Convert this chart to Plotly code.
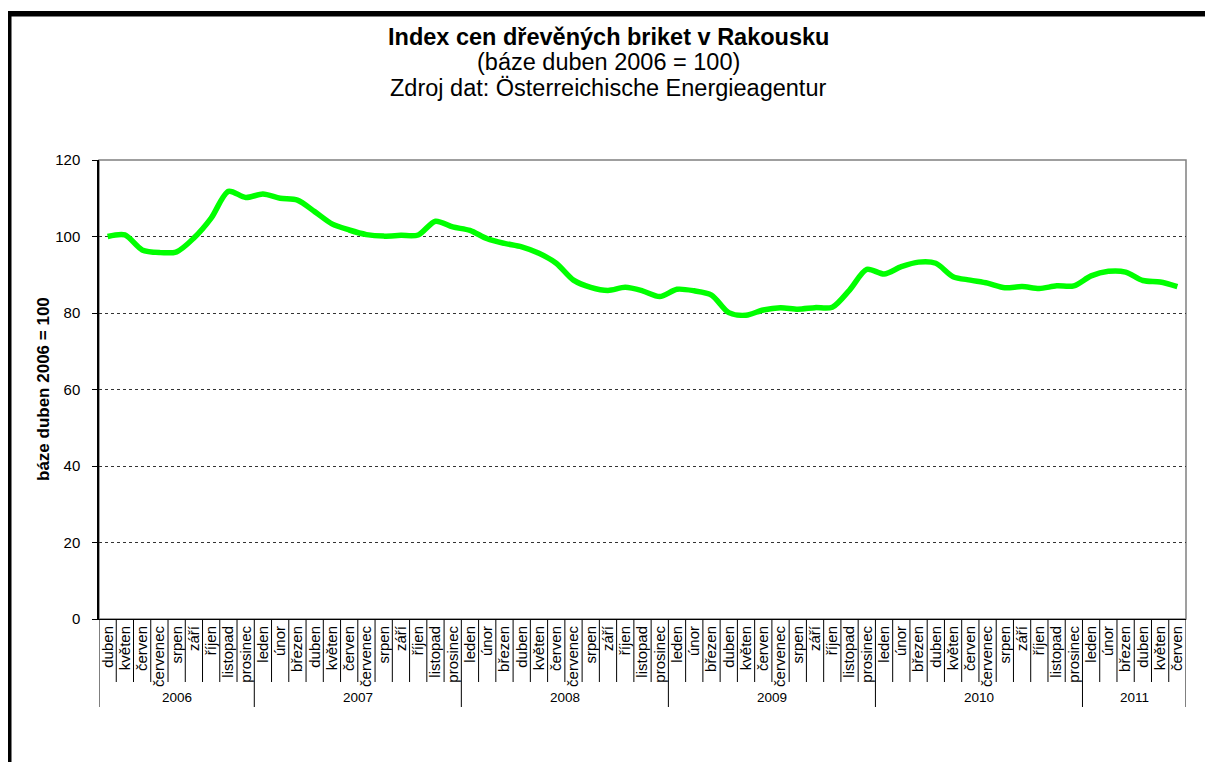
import plotly.graph_objects as go

# ---- data ----
years = ["2006", "2007", "2008", "2009", "2010", "2011"]
months_per_year = [9, 12, 12, 12, 12, 6]

month_labels = [
    "duben", "květen", "červen", "červenec", "srpen", "září", "říjen", "listopad", "prosinec",
    "leden", "únor", "březen", "duben", "květen", "červen", "červenec", "srpen", "září", "říjen", "listopad", "prosinec",
    "leden", "únor", "březen", "duben", "květen", "červen", "červenec", "srpen", "září", "říjen", "listopad", "prosinec",
    "leden", "únor", "březen", "duben", "květen", "červen", "červenec", "srpen", "září", "říjen", "listopad", "prosinec",
    "leden", "únor", "březen", "duben", "květen", "červen", "červenec", "srpen", "září", "říjen", "listopad", "prosinec",
    "leden", "únor", "březen", "duben", "květen", "červen",
]

index_values = [
    100.0, 100.4, 96.5, 95.8, 96.0, 99.6, 104.8, 111.8, 110.2,
    111.1, 110.0, 109.5, 106.5, 103.3, 101.7, 100.5, 100.1, 100.3, 100.4, 104.0, 102.5,
    101.6, 99.4, 98.2, 97.3, 95.6, 93.0, 88.6, 86.7, 85.9, 86.7, 85.8, 84.3,
    86.2, 85.8, 84.7, 80.1, 79.4, 80.8, 81.4, 81.0, 81.4, 81.5, 86.0, 91.4,
    90.2, 92.1, 93.3, 93.0, 89.5, 88.6, 87.8, 86.6, 86.9, 86.4, 87.1, 87.1,
    89.7, 90.9, 90.7, 88.5, 88.1, 86.9,
]

y_ticks = [0, 20, 40, 60, 80, 100, 120]

FONT = "Liberation Sans, Arial, sans-serif"
OFF = 8  # page body margin
W, H = 1213 - OFF, 762 - OFF
# plot area in screen pixels: x 99..1186, y 160..619
SX0, SX1, SY0, SY1 = 99, 1186, 160, 619
ML, MT = SX0 - OFF, SY0 - OFF
MR, MB = W - (SX1 - OFF), H - (SY1 - OFF)
PW, PH = SX1 - SX0, SY1 - SY0

def px_y(py):
    return (SY1 - py) / PH

def px_x(px):
    return (px - SX0) / PW

x_idx = list(range(len(index_values)))

fig = go.Figure()
fig.add_trace(go.Scatter(
    x=x_idx, y=index_values, mode="lines",
    line=dict(color="#00FF00", width=5.5, shape="spline", smoothing=0.8),
    hoverinfo="skip", showlegend=False,
))

shapes = []
shapes.append(dict(type="rect", xref="paper", yref="paper", x0=0, x1=1, y0=0, y1=1,
                   line=dict(color="#808080", width=1.5), layer="below"))
n = len(index_values)
year_bounds = [0]
for m in months_per_year:
    year_bounds.append(year_bounds[-1] + m)
for i in range(n + 1):
    is_year = i in year_bounds
    shapes.append(dict(type="line", xref="x", yref="paper",
                       x0=i - 0.5, x1=i - 0.5, y0=0,
                       y1=px_y(707) if is_year else px_y(682),
                       line=dict(color="#000000", width=1)))
# black frame (left and top)
shapes.append(dict(type="rect", xref="paper", yref="paper",
                   x0=px_x(5), x1=px_x(11.5), y0=px_y(780), y1=px_y(11),
                   fillcolor="#000000", line=dict(width=0)))
shapes.append(dict(type="rect", xref="paper", yref="paper",
                   x0=px_x(5), x1=px_x(1230), y0=px_y(16.5), y1=px_y(11),
                   fillcolor="#000000", line=dict(width=0)))

annotations = []
for k, yr in enumerate(years):
    cx = (year_bounds[k] + year_bounds[k + 1] - 1) / 2
    annotations.append(dict(x=cx, y=px_y(697), xref="x", yref="paper", text=yr,
                            showarrow=False, yanchor="middle", xanchor="center",
                            font=dict(family=FONT, size=13.5, color="#000000")))
title_x = px_x(608)
annotations.append(dict(x=title_x, y=px_y(37), xref="paper", yref="paper",
                        text="<b>Index cen dřevěných briket v Rakousku</b>", showarrow=False,
                        yanchor="middle", xanchor="center",
                        font=dict(family=FONT, size=23.5, color="#000000")))
annotations.append(dict(x=title_x, y=px_y(62), xref="paper", yref="paper",
                        text="(báze duben 2006 = 100)", showarrow=False,
                        yanchor="middle", xanchor="center",
                        font=dict(family=FONT, size=23.5, color="#000000")))
annotations.append(dict(x=title_x, y=px_y(88), xref="paper", yref="paper",
                        text="Zdroj dat: Österreichische Energieagentur", showarrow=False,
                        yanchor="middle", xanchor="center",
                        font=dict(family=FONT, size=23.5, color="#000000")))
annotations.append(dict(x=px_x(43), y=px_y(389), xref="paper", yref="paper",
                        text="<b>báze duben 2006 = 100</b>", showarrow=False, textangle=-90,
                        xanchor="center", yanchor="middle",
                        font=dict(family=FONT, size=17, color="#000000")))

fig.update_layout(
    width=W, height=H,
    margin=dict(l=ML, r=MR, t=MT, b=MB, autoexpand=False),
    paper_bgcolor="#FFFFFF", plot_bgcolor="#FFFFFF",
    shapes=shapes, annotations=annotations,
    xaxis=dict(range=[-0.5, n - 0.5], tickmode="array", tickvals=x_idx, ticktext=month_labels,
               tickangle=-90, ticks="", showgrid=False, zeroline=False,
               showline=True, linecolor="#000000", linewidth=1,
               tickfont=dict(family=FONT, size=15, color="#000000")),
    yaxis=dict(range=[0, 120], tickmode="array", tickvals=y_ticks, ticks="outside",
               ticklen=5, tickcolor="#000000", showline=True, linecolor="#000000", linewidth=1.5,
               showgrid=True, gridcolor="#333333", gridwidth=1, griddash="dot", zeroline=False,
               ticklabelstandoff=9,
               tickfont=dict(family=FONT, size=15, color="#000000")),
    font=dict(family=FONT),
)

fig.write_html("out.html")
